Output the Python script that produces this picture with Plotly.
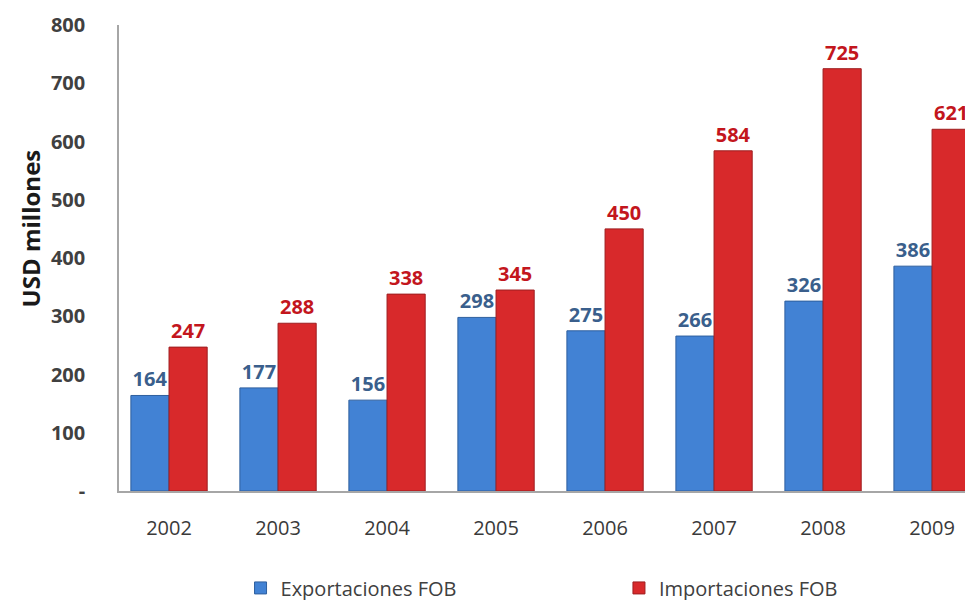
import plotly.graph_objects as go

years = ["2002", "2003", "2004", "2005", "2006", "2007", "2008", "2009"]
exportaciones = [164, 177, 156, 298, 275, 266, 326, 386]
importaciones = [247, 288, 338, 345, 450, 584, 725, 621]
y_tickvals = [0, 100, 200, 300, 400, 500, 600, 700, 800]
y_ticktext = ["-", "100", "200", "300", "400", "500", "600", "700", "800"]

FONT = "Open Sans, Lato, sans-serif"

fig = go.Figure()
fig.add_trace(go.Bar(
    x=years, y=exportaciones, name="Exportaciones FOB", legend="legend",
    marker=dict(color="#4282D4", line=dict(color="#2E5F9E", width=1)),
    text=[str(v) for v in exportaciones], textposition="outside",
    outsidetextfont=dict(color="#3A5F8C", size=20, family=FONT, weight="bold"),
    cliponaxis=False,
))
fig.add_trace(go.Bar(
    x=years, y=importaciones, name="Importaciones FOB", legend="legend2",
    marker=dict(color="#D8292B", line=dict(color="#9E1E20", width=1)),
    text=[str(v) for v in importaciones], textposition="outside",
    outsidetextfont=dict(color="#C3161D", size=20, family=FONT, weight="bold"),
    cliponaxis=False,
))

legend_common = dict(
    orientation="h", yanchor="middle", xanchor="left", visible=True,
    font=dict(size=20, color="#404040", family=FONT), bgcolor="rgba(0,0,0,0)",
)

fig.add_annotation(
    text="USD millones", textangle=-90, xref="paper", yref="paper",
    x=-0.103, y=0.564, xanchor="center", yanchor="middle", showarrow=False,
    font=dict(size=24, color="#1A1A1A", family=FONT, weight="bold"),
)

fig.update_layout(
    width=973, height=600, showlegend=True,
    margin=dict(l=111, r=0, t=17, b=117, autoexpand=False),
    paper_bgcolor="white", plot_bgcolor="white",
    barmode="group", bargap=0.3, bargroupgap=0,
    font=dict(family=FONT, color="#404040"),
    xaxis=dict(
        range=[-0.459, 7.449], showline=True, linecolor="#A6A6A6", linewidth=1.5,
        ticks="", tickfont=dict(size=20, color="#3A3A3A"), showgrid=False,
        automargin=False, ticklabelstandoff=18,
    ),
    yaxis=dict(
        range=[0, 800], tickvals=y_tickvals, ticktext=y_ticktext,
        showline=True, linecolor="#A6A6A6", linewidth=1.5, showgrid=False,
        zeroline=False, ticks="", ticklabelstandoff=28, automargin=False,
        tickfont=dict(size=20, color="#404040", weight="bold"),
    ),
    legend=dict(x=0.141, y=-0.208, **legend_common),
    legend2=dict(x=0.580, y=-0.208, **legend_common),
)

fig.write_html("out.html")
